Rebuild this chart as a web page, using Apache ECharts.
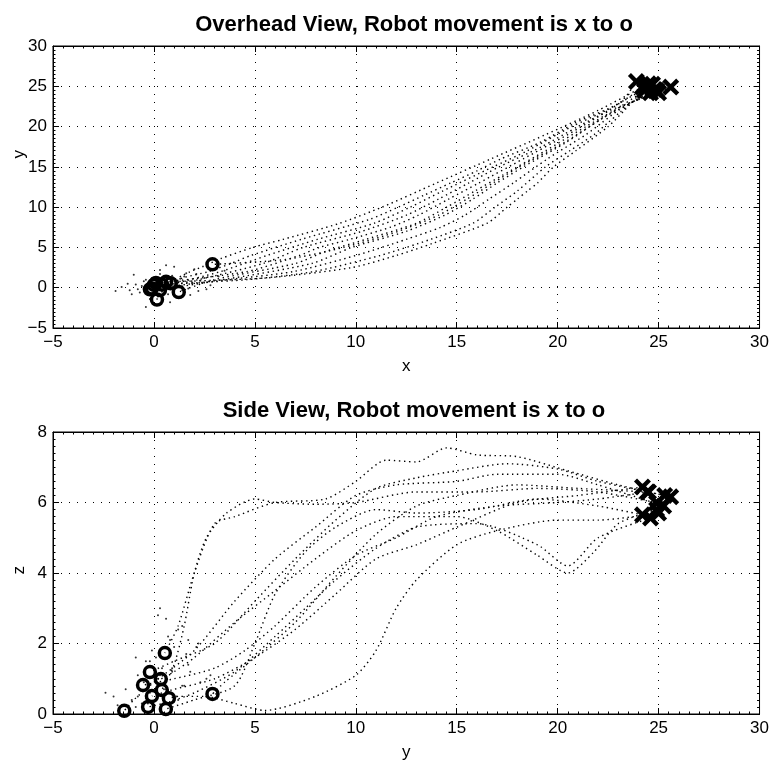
<!DOCTYPE html>
<html>
<head>
<meta charset="utf-8">
<script src="https://cdn.jsdelivr.net/npm/echarts@6/dist/echarts.min.js"></script>
<style>
  html, body { margin: 0; padding: 0; background: #fff; }
  #chart { width: 772px; height: 768px; }
</style>
</head>
<body>
<div id="chart"></div>
<script>
// Robot trajectories, one array per trial, waypoints as [x, y, z].
// First waypoint = start (drawn as x), last waypoint = end (drawn as o).
const trial1 = [[23.9,25.6,6.16],[23.1,23,6.5],[20.9,20.5,6.9],[19.1,18,7.3],[17.2,16,7.35],[16.0,14.5,7.55],[14.7,13,7.15],[13.4,11.5,7.2],[12.1,10,6.6],[10.7,8.5,6.1],[7.3,6,6.0],[4.8,4,5.6],[3.8,3,5.4],[2.7,2,4.0],[1.4,1.2,2.5],[0.83,0.54,1.73]];
const trial2 = [[24.5,25.3,6.2],[22.5,22,6.6],[21.0,20,6.95],[19.2,17.5,7.1],[17.1,15,6.9],[15.6,13,6.7],[14.1,11,6.4],[12.5,9,5.5],[10.3,7,4.4],[7.4,5,3.2],[5.4,3,2.0],[2.2,1,1.5],[-0.2,-0.2,1.19]];
const trial3 = [[25.6,24.9,5.8],[23.7,23,5.4],[23.1,21.8,4.6],[22.5,20.5,4.0],[21.8,19,4.5],[20.6,17,5.2],[19.4,15,5.6],[18.0,12,5.6],[16.9,10,5.2],[15.8,8,4.4],[13.7,6,3.5],[11.2,4,2.6],[7.9,2,1.6],[4.6,1,1.2],[0.0,0.34,0.99]];
const trial4 = [[24.9,24.5,6.3],[22.8,22,6.1],[21.4,20,6.0],[19.4,17,5.9],[17.3,14,5.6],[15.9,12,5.0],[14.5,10,4.5],[13.0,8,3.6],[10.5,6,2.5],[8.5,4.5,1.8],[7.0,3,1.3],[3.0,1,1.0],[1.23,-0.54,0.82]];
const trial5 = [[24.2,24.9,5.99],[22.0,22,6.3],[19.4,19,6.4],[16.7,16,6.3],[14.0,13,6.3],[11.3,10,6.0],[9.2,8,5.95],[6.4,6,6.0],[4.9,5,6.1],[3.3,3.6,5.7],[2.4,2.6,5.0],[1.8,2,4.0],[1.4,1.5,2.5],[1.0,1,1.4],[0.4,0.39,0.68]];
const trial6 = [[24.6,24.2,6.44],[22.2,21,6.2],[20.4,18,6.0],[18.3,15,5.3],[17.0,13,4.8],[15.8,11,4.4],[14.4,9,3.4],[12.5,7,2.4],[9.8,5,1.6],[7.8,3,1.0],[3.4,1,0.7],[-0.1,-0.1,0.51]];
const trial7 = [[24.4,25,5.7],[23.3,22,5.5],[22.5,20,5.5],[20.9,17,5.2],[19.8,15,4.8],[19.0,13,3.8],[18.5,12,3.0],[18.0,11,1.8],[17.5,10,1.1],[16.5,8,0.5],[13.8,5.5,0.1],[12.0,4,0.3],[9.8,2.5,0.5],[5.5,1.2,0.5],[0.6,0.74,0.45]];
const trial8 = [[24.8,24.6,5.56],[23.0,22,5.0],[22.2,20.5,4.2],[21.4,19,4.8],[19.5,16,5.4],[17.8,13,5.3],[16.6,11,4.7],[15.4,9,3.8],[14.2,7.5,3.0],[12.5,6,2.2],[10.0,4,1.2],[6.9,2,0.6],[3.0,0.8,0.35],[0.3,-0.29,0.2]];
const trial9 = [[25.0,24.2,5.65],[22.6,22,5.9],[20.5,19,6.1],[18.3,16,5.8],[16.1,13,5.7],[14.6,11,5.8],[13.1,9,5.3],[11.7,7.5,4.6],[9.7,6,3.4],[8.2,5,2.0],[7.2,4,0.8],[4.6,2,0.4],[0.1,0.59,0.14]];
const trial10 = [[24.7,25.25,5.9],[22.4,22,6.5],[20.7,20,6.8],[18.5,17,6.8],[16.8,15,6.6],[14.3,12,6.5],[12.7,10,6.2],[10.9,8,5.3],[8.1,6,4.4],[5.6,4,3.2],[3.3,2,1.8],[0.4,0,0.9],[0.2,-1,0.4],[0.15,-1.47,0.09]];
const trial11 = [[24.3,24.45,6.3],[22.2,21,6.4],[20.3,18,6.5],[18.1,15,6.2],[16.8,13,5.9],[15.5,11,5.1],[14.1,9,3.9],[12.1,7,2.6],[9.4,5,1.6],[6.5,3.5,0.9],[2.9,2.9,0.57]];

// Scattered samples recorded around the end zone, [x, y, z]
const endCloud = [[-1.6,0.1,0.6],[-1.2,-0.3,0.9],[-0.9,0.4,1.3],[-0.7,-0.6,0.3],[-0.5,0.8,2.1],[-0.3,-0.9,1.6],[-0.1,1.2,2.4],[0.2,-1.1,0.4],[0.5,1.0,1.9],[0.7,-0.8,1.1],[0.9,1.5,0.8],[1.1,0.2,2.8],[1.4,-0.3,0.3],[1.6,1.8,1.2],[1.9,0.6,0.7],[2.2,-0.4,1.5],[2.5,1.2,0.4],[0.0,-2.0,0.5],[-0.4,-2.4,0.6],[0.3,2.2,2.0],[1.0,2.6,1.0],[1.8,-0.9,0.2],[2.8,0.3,1.1],[-1.0,1.6,1.7],[0.6,0.3,3.0],[-0.2,0.6,2.7],[1.3,1.1,0.5],[2.0,2.3,0.9],[0.8,-1.8,0.25],[-0.6,0.2,1.0],
  [-1.3,0.5,0.7],[-0.8,-0.2,1.5],[0.1,0.9,1.2],[0.4,-0.5,0.9],[1.2,0.7,2.2],[1.7,-0.1,1.8],[2.3,0.9,1.3],[3.2,1.4,0.8],[-0.2,-1.4,0.7],[0.9,0.1,1.6],[1.5,1.4,2.5],[2.6,-0.2,0.6],[-1.1,-0.8,0.5],[0.3,1.7,1.4],[3.5,2.1,1.9],[1.0,-0.5,0.15],[-0.4,1.0,0.35],[2.1,1.7,2.1],[0.6,2.8,1.1],[-1.9,-0.4,0.45]];

// Axis ranges and tick steps
const planeRange = [-5, 30];
const planeStep = 5;
const heightRange = [0, 8];
const heightStep = 2;

const titles = ['Overhead View, Robot movement is x to o', 'Side View, Robot movement is x to o'];

const trials = [trial1, trial2, trial3, trial4, trial5, trial6, trial7, trial8, trial9, trial10, trial11];

const FONT = '"Liberation Sans", Arial, Helvetica, sans-serif';
const crossPath = 'path://M0,3.6L3.6,0L10,6.4L16.4,0L20,3.6L13.6,10L20,16.4L16.4,20L10,13.6L3.6,20L0,16.4L6.4,10Z';

const chart = echarts.init(document.getElementById('chart'), null, { renderer: 'canvas' });

function fmt(v) { return String(v).replace('-', '\u2212'); }

function mainAxis(gridIndex, position, range, step, labelled) {
  return {
    type: 'value', gridIndex, position,
    min: range[0], max: range[1], interval: step,
    axisLine: { show: true, onZero: false, lineStyle: { color: '#000', width: 1 } },
    axisTick: { show: true, inside: true, length: 6, lineStyle: { color: '#000' } },
    minorTick: { show: true, splitNumber: 10, length: 2.5, lineStyle: { color: '#000' } },
    axisLabel: labelled ? { show: true, color: '#000', fontFamily: FONT, fontSize: 17, margin: 6, formatter: fmt } : { show: false },
    splitLine: labelled ? { show: true, lineStyle: { color: '#000', width: 1, type: [1, 7] } } : { show: false },
    minorSplitLine: { show: false }
  };
}

const xAxes = [
  Object.assign(mainAxis(0, 'bottom', planeRange, planeStep, true), { name: 'x' }),
  mainAxis(0, 'top', planeRange, planeStep, false),
  Object.assign(mainAxis(1, 'bottom', planeRange, planeStep, true), { name: 'y' }),
  mainAxis(1, 'top', planeRange, planeStep, false)
];
xAxes.forEach(a => {
  if (a.name) {
    a.nameLocation = 'middle';
    a.nameGap = 30;
    a.nameTextStyle = { color: '#000', fontFamily: FONT, fontSize: 17 };
  }
});

const yAxes = [
  mainAxis(0, 'left', planeRange, planeStep, true),
  mainAxis(0, 'right', planeRange, planeStep, false),
  mainAxis(1, 'left', heightRange, heightStep, true),
  mainAxis(1, 'right', heightRange, heightStep, false)
];

const pathStyle = { color: '#000', width: 1.4, type: [1.4, 3.6] };

const series = [];
trials.forEach((t, i) => {
  series.push({
    type: 'line', xAxisIndex: 0, yAxisIndex: 0, name: 'overhead' + (i + 1),
    data: t.map(p => [p[0], p[1]]),
    showSymbol: false, smooth: 0.25, silent: true,
    lineStyle: pathStyle, z: 2
  });
  series.push({
    type: 'line', xAxisIndex: 2, yAxisIndex: 2, name: 'side' + (i + 1),
    data: t.map(p => [p[1], p[2]]),
    showSymbol: false, smooth: 0.25, silent: true,
    lineStyle: pathStyle, z: 2
  });
});

series.push({
  type: 'scatter', xAxisIndex: 0, yAxisIndex: 0, symbolSize: 2,
  data: endCloud.map(p => [p[0], p[1]]), itemStyle: { color: '#000' }, z: 2
});
series.push({
  type: 'scatter', xAxisIndex: 2, yAxisIndex: 2, symbolSize: 2,
  data: endCloud.map(p => [p[1], p[2]]), itemStyle: { color: '#000' }, z: 2
});

const starts = trials.map(t => t[0]);
const ends = trials.map(t => t[t.length - 1]);

const crossStyle = { type: 'scatter', symbol: crossPath, symbolSize: 17, itemStyle: { color: '#000', opacity: 1 }, z: 5 };
const ringStyle = { type: 'scatter', symbol: 'circle', symbolSize: 11, itemStyle: { color: 'rgba(0,0,0,0)', borderColor: '#000', borderWidth: 3.5, opacity: 1 }, z: 5 };

series.push(Object.assign({}, crossStyle, { xAxisIndex: 0, yAxisIndex: 0, data: starts.map(p => [p[0], p[1]]) }));
series.push(Object.assign({}, crossStyle, { xAxisIndex: 2, yAxisIndex: 2, data: starts.map(p => [p[1], p[2]]) }));
series.push(Object.assign({}, ringStyle, { xAxisIndex: 0, yAxisIndex: 0, data: ends.map(p => [p[0], p[1]]) }));
series.push(Object.assign({}, ringStyle, { xAxisIndex: 2, yAxisIndex: 2, data: ends.map(p => [p[1], p[2]]) }));

const option = {
  backgroundColor: '#fff',
  animation: false,
  title: [
    { text: titles[0], left: 409, top: 9, textAlign: 'center',
      textStyle: { color: '#000', fontFamily: FONT, fontSize: 22, fontWeight: 'bold' } },
    { text: titles[1], left: 409, top: 395, textAlign: 'center',
      textStyle: { color: '#000', fontFamily: FONT, fontSize: 22, fontWeight: 'bold' } }
  ],
  grid: [
    { left: 53, right: 7, top: 46, height: 282, show: true, borderColor: '#000', borderWidth: 1, backgroundColor: 'transparent', containLabel: false },
    { left: 53, right: 7, top: 432, height: 282, show: true, borderColor: '#000', borderWidth: 1, backgroundColor: 'transparent', containLabel: false }
  ],
  xAxis: xAxes,
  yAxis: yAxes,
  graphic: [
    { type: 'text', left: 11, top: 150, rotation: Math.PI / 2,
      style: { text: 'y', fill: '#000', font: '17px ' + FONT } },
    { type: 'text', left: 11, top: 566, rotation: Math.PI / 2,
      style: { text: 'z', fill: '#000', font: '17px ' + FONT } }
  ],
  series
};

chart.setOption(option);
</script>
</body>
</html>
